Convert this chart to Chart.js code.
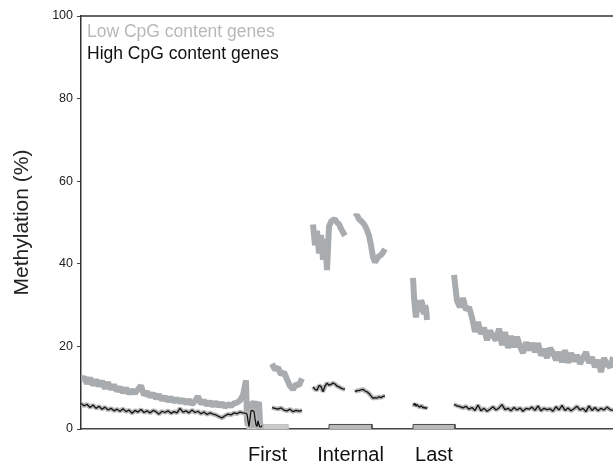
<!DOCTYPE html>
<html>
<head>
<meta charset="utf-8">
<script src="https://cdn.jsdelivr.net/npm/chart.js@4.4.1/dist/chart.umd.min.js"></script>
<style>
  html, body { margin: 0; padding: 0; background: #fff; }
  canvas { display: block; }
</style>
</head>
<body>
<canvas id="chart" width="613" height="461"></canvas>
<script>
// Series names
const seriesNames = ['Low CpG content genes', 'High CpG content genes'];

// Exon markers along the metagene (x in bins)
const exonLabels = ['First', 'Internal', 'Last'];
const exonStarts = [166, 248, 332];
const exonEnds = [207, 291, 374];
const exonHeight = 1.1;

// Upstream region: x = 0, 3, 6 ... 165
const upstreamStart = 0, upstreamStep = 3;
const upstreamLow = [11.8, 12.6, 11.0, 12.4, 10.6, 11.9, 10.4, 11.6, 9.8, 11.3,
  9.6, 10.7, 9.2, 10.1, 8.8, 9.9, 8.6, 9.4, 8.7, 9.6,
  10.5, 8.2, 9.0, 7.8, 8.6, 7.4, 8.3, 7.0, 7.8, 6.8,
  7.6, 6.6, 7.3, 6.5, 7.1, 6.2, 7.0, 6.0, 6.8, 7.9,
  6.1, 6.9, 5.8, 6.6, 5.6, 6.5, 5.5, 6.3, 5.3, 6.0,
  5.6, 6.2, 6.4, 6.9, 8.2, 11.8];
const upstreamHigh = [6.2, 5.6, 6.0, 5.2, 5.8, 5.0, 5.5, 4.8, 5.3, 4.6,
  5.0, 4.4, 4.8, 4.3, 4.9, 4.2, 4.6, 3.8, 4.5, 4.1,
  4.7, 4.0, 4.4, 3.9, 4.5, 4.2, 3.6, 4.3, 4.0, 4.4,
  3.8, 4.2, 3.9, 5.0, 4.1, 4.4, 3.9, 4.6, 4.0, 4.3,
  3.7, 4.1, 3.5, 3.9, 3.6, 3.4, 3.0, 2.7, 3.2, 3.6,
  3.4, 3.9, 3.7, 4.1, 3.9, 3.8];

// First exon: x = 166 ... 181
const firstStart = 166, firstStep = 1;
const firstLow = [2.0, 0.8, 5.5, 6.6, 1.0, 0.5, 5.8, 6.8, 2.5, 0.5, 0.8, 6.0, 6.5, 1.5, 0.4, 0.6];
const firstHigh = [3.6, 2.0, 0.6, 2.5, 4.4, 4.5, 4.4, 4.3, 2.5, 1.0, 0.6, 2.0, 1.0, 0.5, 0.5, 0.8];

// First intron: x = 191 ... 221
const intronStart = 191, intronStep = 3;
const intronLow = [15.8, 14.4, 14.9, 13.2, 13.8, 12.0, 10.4, 9.6, 10.8, 10.6, 12.2];
const intronHigh = [5.2, 5.0, 4.8, 5.1, 4.6, 4.4, 4.8, 4.2, 4.5, 4.3, 4.5];

// Internal exon, 5' part: x = 232 ... 264
const internalAStart = 232, internalAStep = 2;
const internalALow = [49.5, 44.5, 48.0, 42.5, 47.0, 41.0, 46.0, 38.5, 49.0, 50.2,
  50.6, 50.8, 50.0, 49.6, 48.5, 47.6, 46.8];
const internalAHigh = [10.2, 9.6, 9.4, 10.5, 10.3, 9.0, 10.4, 11.1, 10.6, 10.8,
  11.1, 10.9, 10.4, 10.2, 9.9, 9.7, 9.6];

// Internal exon, 3' part: x = 274 ... 304
const internalBStart = 274, internalBStep = 2;
const internalBLow = [51.3, 51.8, 50.8, 50.4, 49.9, 49.2, 48.2, 46.8, 44.5, 41.6,
  40.4, 41.2, 41.9, 42.1, 42.8, 43.6];
const internalBHigh = [9.0, 9.3, 9.3, 9.5, 9.6, 9.2, 9.0, 8.6, 8.0, 7.4,
  7.6, 7.5, 7.8, 7.6, 7.9, 8.0];

// Last exon: x = 332 ... 346
const lastStart = 332, lastStep = 1;
const lastLow = [36.6, 32.0, 29.0, 27.0, 29.5, 31.2, 29.0, 28.8, 31.0, 30.7,
  28.5, 28.0, 29.8, 29.3, 26.4];
const lastHigh = [6.0, 5.8, 6.2, 5.5, 5.9, 5.6, 5.4, 5.3, 5.6, 5.5,
  5.1, 5.3, 5.0, 5.2, 4.9];

// Downstream region: x = 373 ... 532
const downStart = 373, downStep = 3;
const downLow = [37.3, 31.0, 29.5, 31.7, 28.8, 29.5, 27.0, 23.5, 25.9, 23.0,
  24.5, 21.5, 23.8, 22.5, 21.5, 24.3, 20.3, 23.5, 19.6, 22.5,
  19.8, 22.3, 20.0, 18.4, 21.0, 19.1, 20.8, 18.6, 20.8, 17.8,
  19.4, 17.2, 19.6, 18.5, 16.7, 18.6, 16.2, 19.1, 16.0, 18.4,
  16.4, 17.9, 15.8, 17.2, 18.6, 16.0, 17.4, 15.0, 16.7, 13.8,
  17.2, 15.6, 15.0, 17.4];
const downHigh = [6.0, 5.6, 5.4, 5.1, 5.5, 4.8, 5.2, 4.5, 5.8, 4.4,
  5.0, 4.3, 4.8, 5.4, 4.6, 5.1, 5.9, 4.7, 5.0, 4.4,
  5.2, 4.6, 5.1, 4.3, 5.0, 4.8, 5.3, 4.5, 5.6, 4.4,
  5.0, 4.7, 4.9, 4.3, 5.4, 4.6, 5.7, 4.5, 5.1, 4.4,
  4.9, 5.5, 4.6, 5.0, 4.2, 5.6, 4.5, 5.2, 4.4, 5.0,
  4.6, 5.3, 4.7, 4.5];

const xMax = 532;

function seg(start, step, values) {
  return values.map((v, i) => ({ x: start + i * step, y: v }));
}

// join segments, null point between them to break the line
function joinSegs(parts) {
  const out = [];
  parts.forEach((p, i) => {
    if (i > 0) out.push({ x: p[0].x - 0.5, y: null });
    out.push(...p);
  });
  return out;
}

const lowData = joinSegs([
  seg(upstreamStart, upstreamStep, upstreamLow).concat(seg(firstStart, firstStep, firstLow)),
  seg(intronStart, intronStep, intronLow),
  seg(internalAStart, internalAStep, internalALow),
  seg(internalBStart, internalBStep, internalBLow),
  seg(lastStart, lastStep, lastLow),
  seg(downStart, downStep, downLow)
]);
const highData = joinSegs([
  seg(upstreamStart, upstreamStep, upstreamHigh).concat(seg(firstStart, firstStep, firstHigh)),
  seg(intronStart, intronStep, intronHigh),
  seg(internalAStart, internalAStep, internalAHigh),
  seg(internalBStart, internalBStep, internalBHigh),
  seg(lastStart, lastStep, lastHigh),
  seg(downStart, downStep, downHigh)
]);

const exonCenters = exonStarts.map((s, i) => (s + exonEnds[i]) / 2);

// exon boxes: a filled top edge plus an outline
const exonFills = exonStarts.map((s, i) => ({
  data: [{ x: s, y: exonHeight }, { x: exonEnds[i], y: exonHeight }],
  borderWidth: 0,
  backgroundColor: i === 0 ? '#c9c9c9' : '#b9b9b9',
  fill: 'origin',
  pointRadius: 0,
  order: 5
}));
const exonOutlines = exonStarts.map((s, i) => ({
  data: [
    { x: s, y: 0 }, { x: s, y: exonHeight }, { x: exonEnds[i], y: exonHeight },
    { x: exonEnds[i], y: 0 }
  ],
  borderColor: i === 0 ? '#c0c0c0' : '#4a4a4a',
  borderWidth: 1,
  fill: false,
  pointRadius: 0,
  order: 4
}));

const lineStyle = { pointRadius: 0, tension: 0, spanGaps: false, fill: false, borderJoinStyle: 'bevel' };

const legendText = {
  id: 'legendText',
  afterDraw(chart) {
    const { ctx, chartArea } = chart;
    ctx.save();
    // top frame line
    ctx.strokeStyle = '#333';
    ctx.lineWidth = 1.5;
    ctx.beginPath();
    ctx.moveTo(chartArea.left, chartArea.top);
    ctx.lineTo(chartArea.right, chartArea.top);
    ctx.stroke();
    ctx.font = '17.5px "Liberation Sans", Arial, sans-serif';
    ctx.textBaseline = 'alphabetic';
    ctx.fillStyle = '#b8b8b8';
    ctx.fillText(seriesNames[0], chartArea.left + 6, chartArea.top + 21);
    ctx.fillStyle = '#111';
    ctx.fillText(seriesNames[1], chartArea.left + 6, chartArea.top + 42.5);
    ctx.restore();
  }
};

new Chart(document.getElementById('chart').getContext('2d'), {
  type: 'line',
  data: {
    datasets: [
      Object.assign({ label: seriesNames[1], data: highData, borderColor: '#141414', borderWidth: 1.3, order: 0 }, lineStyle),
      Object.assign({ label: seriesNames[1] + ' band', data: highData, borderColor: '#b8b8b8', borderWidth: 4.5, order: 1 }, lineStyle),
      Object.assign({ label: seriesNames[0], data: lowData, borderColor: '#a9acae', borderWidth: 6, order: 2 }, lineStyle),
      ...exonOutlines,
      ...exonFills
    ]
  },
  options: {
    responsive: false,
    animation: false,
    layout: { padding: { top: 16, right: 0, left: 0, bottom: 0 } },
    plugins: {
      legend: { display: false },
      tooltip: { enabled: false }
    },
    scales: {
      x: {
        type: 'linear',
        min: 0,
        max: xMax,
        afterBuildTicks(scale) {
          scale.ticks = exonCenters.map(v => ({ value: v }));
        },
        afterFit(scale) { scale.height = 32; },
        ticks: {
          autoSkip: false,
          maxRotation: 0,
          padding: 6,
          color: '#111',
          font: { family: '"Liberation Sans", Arial, sans-serif', size: 20 },
          callback: (v, i) => exonLabels[i]
        },
        grid: { display: false },
        border: { display: true, color: '#444', width: 1.5 }
      },
      y: {
        min: 0,
        max: 100,
        afterFit(scale) { scale.width = 81; },
        ticks: {
          stepSize: 20,
          padding: 4,
          color: '#222',
          font: { family: '"Liberation Sans", Arial, sans-serif', size: 12.5 }
        },
        grid: { drawOnChartArea: false, drawTicks: true, tickLength: 4, color: '#444' },
        border: { display: true, color: '#333', width: 1.5 },
        title: {
          display: true,
          text: 'Methylation (%)',
          color: '#222',
          padding: { top: 10, bottom: 0 },
          font: { family: '"Liberation Sans", Arial, sans-serif', size: 21 }
        }
      }
    }
  },
  plugins: [legendText]
});
</script>
</body>
</html>
